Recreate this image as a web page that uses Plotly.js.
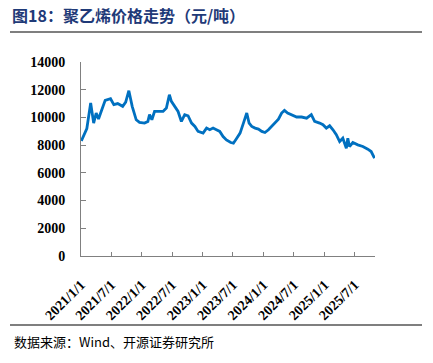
<!DOCTYPE html>
<html>
<head>
<meta charset="utf-8">
<script src="https://cdn.plot.ly/plotly-3.0.1.min.js"></script>
<style>html,body{margin:0;padding:0;background:#fff;}#chart{width:433px;height:363px;}</style>
</head>
<body>
<div id="chart"></div>
<script>
const dates = ['2021-01-03','2021-01-20','2021-02-05','2021-02-28','2021-03-18','2021-04-02','2021-04-16','2021-05-02','2021-05-26','2021-06-27','2021-07-17','2021-08-09','2021-09-08','2021-09-26','2021-10-15','2021-11-04','2021-11-28','2021-12-18','2022-01-17','2022-02-06','2022-02-16','2022-03-02','2022-03-18','2022-04-08','2022-05-08','2022-05-28','2022-06-15','2022-06-27','2022-07-17','2022-08-06','2022-08-26','2022-09-15','2022-10-05','2022-10-26','2022-11-15','2022-12-04','2023-01-03','2023-01-24','2023-02-12','2023-03-04','2023-03-24','2023-04-13','2023-05-03','2023-05-23','2023-06-18','2023-07-04','2023-07-24','2023-08-13','2023-09-02','2023-09-22','2023-10-06','2023-10-22','2023-11-11','2023-12-01','2023-12-21','2024-01-09','2024-01-30','2024-02-19','2024-03-09','2024-03-30','2024-04-18','2024-05-05','2024-05-24','2024-06-17','2024-07-17','2024-08-16','2024-09-15','2024-10-13','2024-11-02','2024-12-02','2024-12-22','2025-01-11','2025-01-31','2025-02-20','2025-03-12','2025-04-01','2025-04-20','2025-05-11','2025-05-20','2025-05-30','2025-06-19','2025-07-19','2025-08-18','2025-09-17','2025-10-07','2025-10-27'];
const prices = [8300,8800,9200,11040,9590,10320,9880,10430,11230,11350,10920,11000,10800,11100,11930,10800,9830,9640,9590,9710,10200,9830,10430,10430,10430,10680,11640,11160,10800,10430,9710,10200,10120,9590,9350,8990,8870,9230,9110,9230,9110,8990,8620,8380,8190,8140,8500,8870,9590,10320,9590,9350,9230,9160,8990,8910,9110,9350,9640,9880,10320,10510,10320,10200,10030,10030,9950,10200,9710,9590,9470,9230,9400,9110,8750,8260,8500,7780,8500,7900,8190,8020,7900,7710,7540,7060];
const tickDates = ['2021-01-01','2021-07-01','2022-01-01','2022-07-01','2023-01-01','2023-07-01','2024-01-01','2024-07-01','2025-01-01','2025-07-01'];
const tickLabels = ['2021/1/1','2021/7/1','2022/1/1','2022/7/1','2023/1/1','2023/7/1','2024/1/1','2024/7/1','2025/1/1','2025/7/1'];
const yTicks = [0,2000,4000,6000,8000,10000,12000,14000];
const yLabels = ['0','2000','4000','6000','8000','10000','12000','14000'];

const L=81, R=375, T=62, B=256, W=433, H=363;
const pw = R-L, ph = B-T;
const px = v => (v-L)/pw;
const py = v => (B-v)/ph;

const trace = {
  x: dates, y: prices, type: 'scatter', mode: 'lines',
  line: {color: '#0070C0', width: 2.8}, hoverinfo: 'skip'
};
const tickFont = {family: '"Liberation Serif", "Times New Roman", serif', size: 14, color: '#000', weight: 'bold'};
const layout = {
  width: W, height: H,
  margin: {l: L, r: W-R, t: T, b: H-B},
  paper_bgcolor: '#fff', plot_bgcolor: '#fff',
  showlegend: false,
  title: {
    text: '图18：聚乙烯价格走势（元/吨）',
    font: {family: '"Noto Sans CJK SC", sans-serif', size: 16, color: '#1F3A78', weight: 'bold'},
    x: 12/W, xanchor: 'left', xref: 'container',
    y: 1-16/H, yanchor: 'middle', yref: 'container'
  },
  xaxis: {
    type: 'date', range: ['2021-01-01','2025-10-30'],
    tickmode: 'array', tickvals: tickDates, ticktext: tickLabels,
    tickangle: -45, ticks: 'inside', ticklen: 4, tickcolor: '#808080', tickwidth: 1,
    showline: true, linecolor: '#808080', linewidth: 1,
    showgrid: false, zeroline: false, tickfont: tickFont, ticklabelstandoff: 14
  },
  yaxis: {
    range: [0,14000], tickmode: 'array', tickvals: yTicks, ticktext: yLabels,
    ticks: 'inside', ticklen: 5, tickcolor: '#808080', tickwidth: 1,
    showline: true, linecolor: '#808080', linewidth: 1,
    showgrid: false, zeroline: false, tickfont: tickFont, ticklabelstandoff: 12
  },
  shapes: [
    {type: 'line', xref: 'paper', yref: 'paper', x0: px(10), x1: px(422), y0: py(32), y1: py(32), line: {color: '#000', width: 1.2}},
    {type: 'line', xref: 'paper', yref: 'paper', x0: px(10), x1: px(422), y0: py(325), y1: py(325), line: {color: '#000', width: 1.2}}
  ],
  annotations: [
    {text: '数据来源：Wind、开源证券研究所', xref: 'paper', yref: 'paper', x: px(12), y: py(341),
     xanchor: 'left', yanchor: 'middle', showarrow: false,
     font: {family: '"Noto Sans CJK SC", sans-serif', size: 13, color: '#000'}}
  ]
};
Plotly.newPlot('chart', [trace], layout, {staticPlot: true, displayModeBar: false});
</script>
</body>
</html>
